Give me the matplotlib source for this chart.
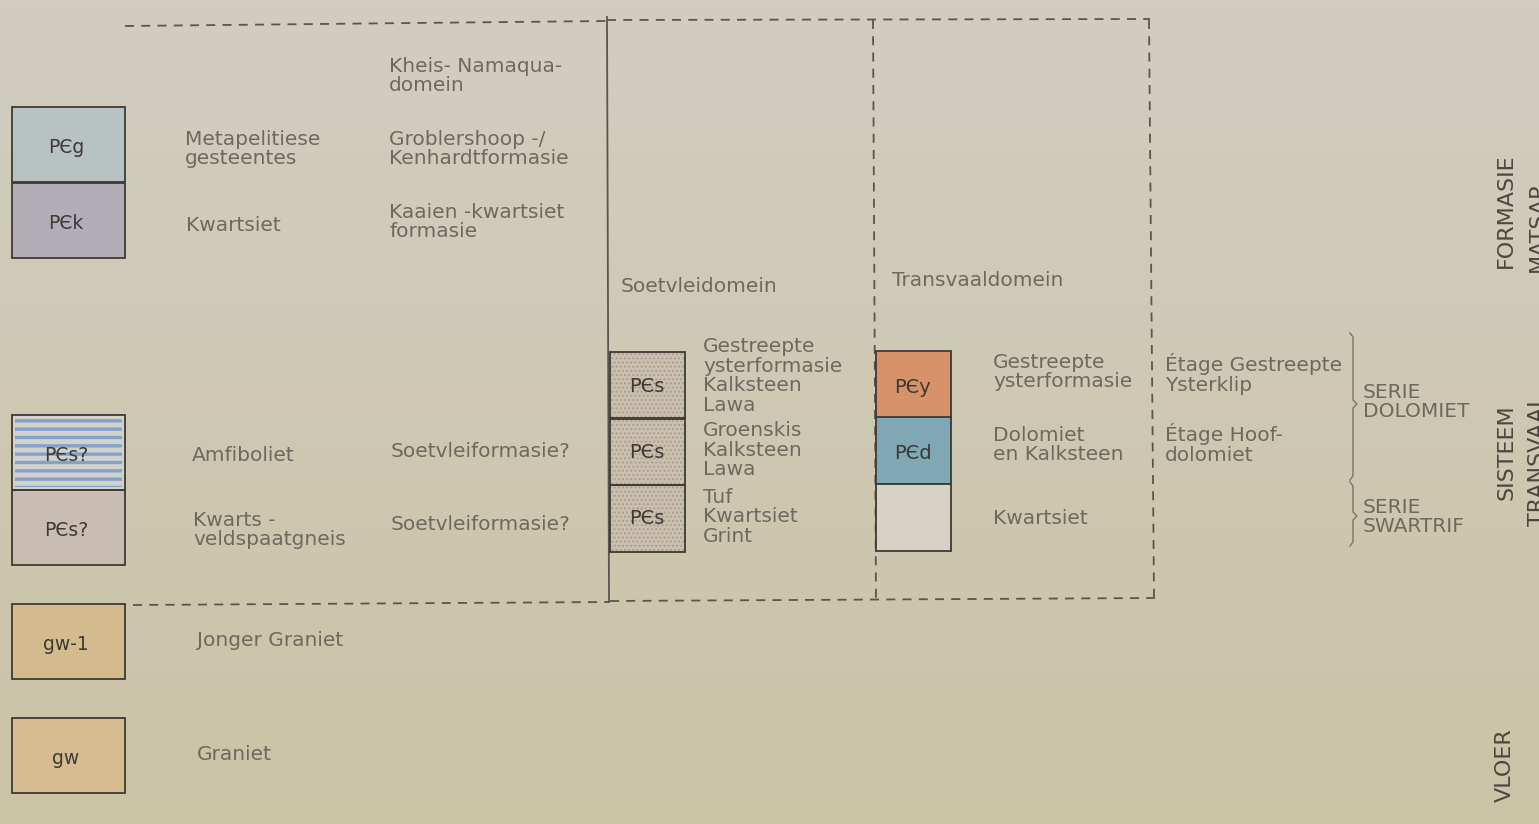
import numpy as np
import matplotlib
matplotlib.use('Agg')
import matplotlib.pyplot as plt
from matplotlib.patches import Rectangle
from matplotlib.colors import to_rgb

# ---- legend content ----
# left column (Kheis-Namaqua domain + basement)
left_codes = ['PЄg', 'PЄk', 'PЄs?', 'PЄs?', 'gw-1', 'gw']
left_fill = ['#b9c2c2', '#b3adb8', '#d2d1cb', '#c9bdb3', '#d3bb8e', '#d5bd91']
left_rocks = ['Metapelitiese\ngesteentes', 'Kwartsiet', 'Amfiboliet',
              'Kwarts -\nveldspaatgneis', 'Jonger Graniet', 'Graniet']
left_units = ['Groblershoop -/\nKenhardtformasie', 'Kaaien -kwartsiet\nformasie',
              'Soetvleiformasie?', 'Soetvleiformasie?', '', '']

# Soetvlei domain column
soet_codes = ['PЄs', 'PЄs', 'PЄs']
soet_rocks = ['Gestreepte\nysterformasie\nKalksteen\nLawa',
              'Groenskis\nKalksteen\nLawa',
              'Tuf\nKwartsiet\nGrint']

# Transvaal domain column
tvl_codes = ['PЄy', 'PЄd', '']
tvl_fill = ['#d8926a', '#7fa8b4', '#d6d2c5']
tvl_rocks = ['Gestreepte\nysterformasie', 'Dolomiet\nen Kalksteen', 'Kwartsiet']
etage = ['Étage Gestreepte\nYsterklip', 'Étage Hoof-\ndolomiet']
serie = ['SERIE\nDOLOMIET', 'SERIE\nSWARTRIF']

# ---- layout (pixels) ----
W, H = 1539, 824
left_top = [107, 183, 415, 490, 604, 718]
left_rock_xy = [(185, 149), (186, 225), (192, 455), (193, 530), (197, 640), (197, 754)]
left_unit_xy = [(389, 149), (389, 222), (391, 451), (391, 524), (0, 0), (0, 0)]
col_top = [352, 418, 485]

txt_col = '#6e695f'
line_col = '#5a564e'
code_col = '#3d3934'
LS = 1.05

fig = plt.figure(figsize=(W / 100, H / 100), dpi=100)
ax = fig.add_axes([0, 0, 1, 1])
ax.set_xlim(0, W)
ax.set_ylim(H, 0)
ax.axis('off')

# paper background, slightly yellower towards the bottom
top_c = np.array(to_rgb('#d1cec1'))
bot_c = np.array(to_rgb('#cbc3a6'))
t = np.linspace(0, 1, 200)[:, None, None]
grad = top_c * (1 - t) + bot_c * t
ax.imshow(grad, extent=[0, W, H, 0], aspect='auto', zorder=0)

font = dict(family='DejaVu Sans', color=txt_col, fontsize=14.5)

# ---- frame lines ----
dash = dict(color=line_col, lw=1.3, ls=(0, (5, 4)))
ax.plot([125, 607], [26, 21], **dash)
ax.plot([607, 1150], [20, 19], **dash)
ax.plot([133, 610], [605, 602], **dash)
ax.plot([610, 1155], [601, 598], **dash)
ax.plot([607, 609], [17, 601], color=line_col, lw=1.3)
ax.plot([873, 876], [20, 600], **dash)
ax.plot([1149, 1154], [20, 598], **dash)

# ---- left column ----
for i, code in enumerate(left_codes):
    y0 = left_top[i]
    ax.add_patch(Rectangle((12, y0), 113, 75, facecolor=left_fill[i], edgecolor='none', zorder=2))
    if i == 2:
        plt.rcParams['hatch.linewidth'] = 2.4
        ax.add_patch(Rectangle((15, y0 + 4), 107, 68, facecolor='none', edgecolor='#7fa3cb',
                               lw=0, hatch='--', zorder=3))
    ax.add_patch(Rectangle((12, y0), 113, 75, facecolor='none', edgecolor='#3e3a34', lw=1.3, zorder=4))
    ax.text(66, y0 + 40, code, ha='center', va='center', fontsize=13.5, color=code_col,
            family='DejaVu Sans', zorder=5)
    rx, ry = left_rock_xy[i]
    ax.text(rx, ry, left_rocks[i], ha='left', va='center', linespacing=LS, **font)
    if left_units[i]:
        ux, uy = left_unit_xy[i]
        ax.text(ux, uy, left_units[i], ha='left', va='center', linespacing=LS, **font)

ax.text(389, 76, 'Kheis- Namaqua-\ndomein', ha='left', va='center', linespacing=LS, **font)

# ---- Soetvlei domain ----
ax.text(621, 287, 'Soetvleidomein', ha='left', va='center', **font)
plt.rcParams['hatch.linewidth'] = 1.0
for i, code in enumerate(soet_codes):
    y0 = col_top[i]
    ax.add_patch(Rectangle((610, y0), 75, 67, facecolor='#cbc0b0', edgecolor='#ab9e8c',
                           lw=0, hatch='....', zorder=2))
    ax.add_patch(Rectangle((610, y0), 75, 67, facecolor='none', edgecolor='#3e3a34', lw=1.3, zorder=4))
    ax.text(647, y0 + 34, code, ha='center', va='center', fontsize=14, color=code_col,
            family='DejaVu Sans', zorder=5)
ax.text(703, 376, soet_rocks[0], ha='left', va='center', linespacing=LS, **font)
ax.text(703, 450, soet_rocks[1], ha='left', va='center', linespacing=LS, **font)
ax.text(703, 517, soet_rocks[2], ha='left', va='center', linespacing=LS, **font)

# ---- Transvaal domain ----
ax.text(892, 281, 'Transvaaldomein', ha='left', va='center', **font)
tvl_text_y = [372, 445, 518]
for i, code in enumerate(tvl_codes):
    y0 = col_top[i] - 1
    ax.add_patch(Rectangle((876, y0), 75, 67, facecolor=tvl_fill[i], edgecolor='#3e3a34',
                           lw=1.3, zorder=3))
    if code:
        ax.text(913, y0 + 36, code, ha='center', va='center', fontsize=14, color=code_col,
                family='DejaVu Sans', zorder=5)
    ax.text(993, tvl_text_y[i], tvl_rocks[i], ha='left', va='center', linespacing=LS, **font)

ax.text(1165, 374, etage[0], ha='left', va='center', linespacing=LS, **font)
ax.text(1165, 444, etage[1], ha='left', va='center', linespacing=LS, **font)

# braces
brace = dict(color='#7a756b', lw=1.0)
ax.plot([1350, 1353, 1353, 1357, 1353, 1353, 1350],
        [333, 337, 400, 404, 408, 476, 480], **brace)
ax.plot([1350, 1353, 1353, 1357, 1353, 1353, 1350],
        [482, 486, 512, 516, 520, 542, 546], **brace)
ax.text(1363, 402, serie[0], ha='left', va='center', linespacing=LS, **font)
ax.text(1363, 517, serie[1], ha='left', va='center', linespacing=LS, **font)

# ---- rotated right-hand labels (partly cut by the page edge, as on the scan) ----
rot = dict(rotation=90, ha='center', va='bottom', fontsize=16, color='#4c483f',
           family='DejaVu Sans')
ax.text(1506, 268, 'FORMASIE', **rot)
ax.text(1538, 272, 'MATSAP', **rot)
ax.text(1506, 500, 'SISTEEM', **rot)
ax.text(1538, 526, 'TRANSVAAL', **rot)
ax.text(1505, 802, 'VLOER', **rot)

fig.savefig('out.png', dpi=100)
